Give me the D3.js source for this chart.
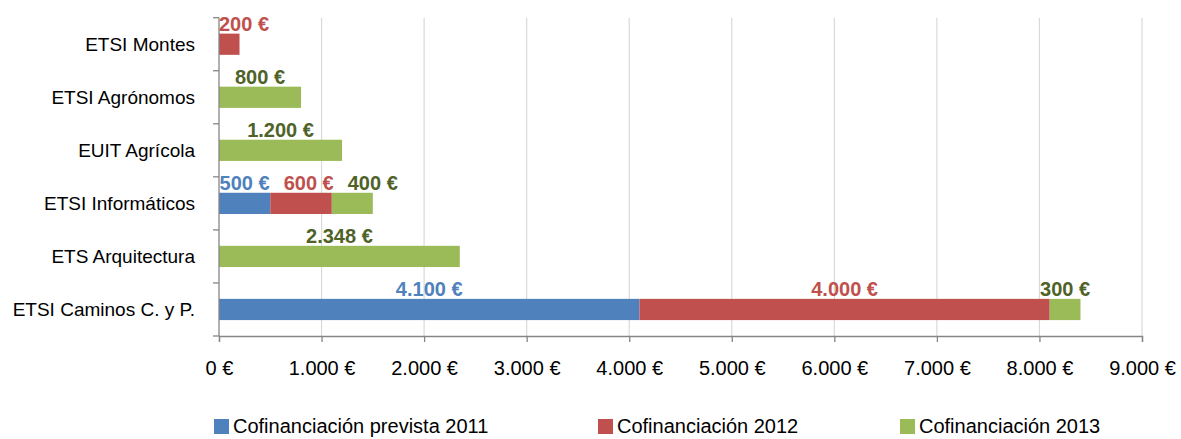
<!DOCTYPE html>
<html>
<head>
<meta charset="utf-8">
<script src="https://cdn.jsdelivr.net/npm/d3@7"></script>
<style>
  html, body { margin: 0; padding: 0; background: #fff; }
  svg { display: block; }
  text { font-family: "Liberation Sans", Arial, sans-serif; }
</style>
</head>
<body>
<svg id="chart" width="1181" height="439"></svg>
<script>
// ---- Data ----
const categories = ["ETSI Montes", "ETSI Agrónomos", "EUIT Agrícola", "ETSI Informáticos", "ETS Arquitectura", "ETSI Caminos C. y P."];
const seriesNames = ["Cofinanciación prevista 2011", "Cofinanciación 2012", "Cofinanciación 2013"];
const values2011 = [0, 0, 0, 500, 0, 4100];
const values2012 = [200, 0, 0, 600, 0, 4000];
const values2013 = [0, 800, 1200, 400, 2348, 300];
const xTicks = [0, 1000, 2000, 3000, 4000, 5000, 6000, 7000, 8000, 9000];

const barColors = ["#4F81BD", "#C0504D", "#9BBB59"];
const labelColors = ["#4F81BD", "#C0504D", "#4F6228"];

// ---- Layout ----
const plotL = 219, plotR = 1142, plotT = 17.7, plotB = 336;

const svg = d3.select("#chart");

const x = d3.scaleLinear().domain([0, 9000]).range([plotL, plotR]);
const y = d3.scaleBand().domain(categories).range([plotT, plotB]).paddingInner(0.6).paddingOuter(0.3);

const fmt = d3.formatLocale({decimal: ",", thousands: ".", grouping: [3], currency: ["", "\u00a0€"]}).format("$,.0f");

// gridlines
svg.append("g")
  .selectAll("line")
  .data(xTicks.slice(1))
  .join("line")
  .attr("x1", d => x(d)).attr("x2", d => x(d))
  .attr("y1", plotT).attr("y2", plotB)
  .attr("stroke", "#d9d9d9").attr("stroke-width", 1.2);

// stacked data
const rows = categories.map((c, i) => ({cat: c, s0: values2011[i], s1: values2012[i], s2: values2013[i]}));
const stack = d3.stack().keys(["s0", "s1", "s2"])(rows);

const layers = svg.append("g").selectAll("g")
  .data(stack)
  .join("g")
  .attr("fill", (d, i) => barColors[i]);

layers.selectAll("rect")
  .data(d => d.filter(p => p[1] - p[0] > 0))
  .join("rect")
  .attr("x", p => x(p[0]))
  .attr("width", p => x(p[1]) - x(p[0]))
  .attr("y", p => y(p.data.cat))
  .attr("height", y.bandwidth());

// axes
const xAxis = d3.axisBottom(x).tickValues(xTicks).tickSize(6).tickFormat(d => fmt(d));
const gx = svg.append("g").attr("transform", `translate(0,${plotB})`).call(xAxis);
gx.select(".domain").attr("stroke", "#868686").attr("stroke-width", 1.3);
gx.selectAll(".tick line").attr("stroke", "#868686").attr("stroke-width", 1.3);
gx.selectAll(".tick text")
  .attr("font-size", 20).attr("fill", "#000")
  .attr("font-family", "Liberation Sans, Arial, sans-serif")
  .attr("y", 0).attr("dy", 39);

// y axis line + boundary ticks
const gy = svg.append("g");
gy.append("line").attr("x1", plotL).attr("x2", plotL).attr("y1", plotT).attr("y2", plotB)
  .attr("stroke", "#868686").attr("stroke-width", 1.3);
const bounds = d3.range(categories.length + 1).map(i => plotT + i * (plotB - plotT) / categories.length);
gy.selectAll("line.t").data(bounds).join("line").attr("class", "t")
  .attr("x1", plotL - 6).attr("x2", plotL).attr("y1", d => d).attr("y2", d => d)
  .attr("stroke", "#868686").attr("stroke-width", 1.3);
gy.selectAll("text").data(categories).join("text")
  .attr("x", 195)
  .attr("y", d => y(d) + y.bandwidth() / 2 + 7)
  .attr("text-anchor", "end")
  .attr("font-size", 19)
  .attr("fill", "#000")
  .text(d => d);

// data labels (centered on segment, kept inside plot, pushed apart in a row)
const lastRight = {};
stack.forEach((layer, si) => {
  svg.append("g").selectAll("text")
    .data(layer.filter(p => p[1] - p[0] > 0))
    .join("text")
    .attr("font-size", 20)
    .attr("font-weight", "bold")
    .attr("fill", labelColors[si])
    .attr("text-anchor", "middle")
    .text(p => fmt(p[1] - p[0]))
    .each(function(p) {
      const w = this.getComputedTextLength();
      let cx = (x(p[0]) + x(p[1])) / 2;
      if (cx - w / 2 < plotL) cx = plotL + w / 2;
      const prev = lastRight[p.data.cat];
      if (prev !== undefined && cx - w / 2 < prev + 14) cx = prev + 14 + w / 2;
      lastRight[p.data.cat] = cx + w / 2;
      d3.select(this).attr("x", cx).attr("y", y(p.data.cat) - 3);
    });
});

// legend
const legendX = [214, 598, 900];
const lg = svg.append("g").selectAll("g").data(seriesNames).join("g")
  .attr("transform", (d, i) => `translate(${legendX[i]},0)`);
lg.append("rect").attr("x", 0).attr("y", 419).attr("width", 15).attr("height", 15)
  .attr("fill", (d, i) => barColors[i]);
lg.append("text").attr("x", 19).attr("y", 433).attr("font-size", 20).attr("fill", "#000").text(d => d);
</script>
</body>
</html>
